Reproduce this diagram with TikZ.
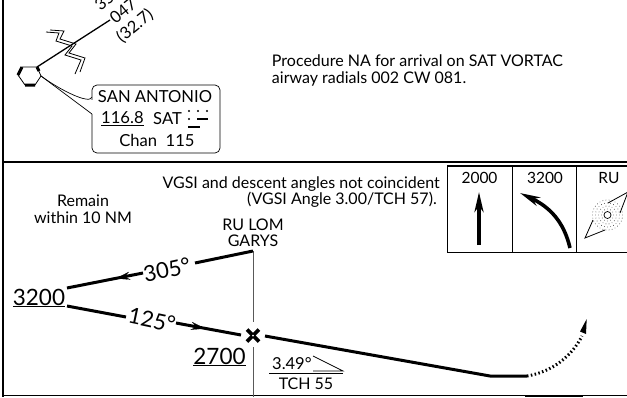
\documentclass[tikz,border=0pt]{standalone}
\usepackage{fontspec}
\setmainfont{Lato}
\usetikzlibrary{arrows.meta}
\tikzset{
    rule/.style={black,line width=1.3pt},
    thinrule/.style={black,line width=0.9pt},
    track/.style={black,line width=3pt},
    label/.style={inner sep=0pt,font=\fontsize{16}{17}\selectfont},
    altitude/.style={inner sep=0pt,font=\fontsize{22.5}{23}\selectfont},
    bearing/.style={inner sep=0pt,font=\fontsize{22}{22}\selectfont},
    radial/.style={inner sep=0pt,rotate=39,font=\fontsize{16.5}{17}\selectfont}
}
\begin{document}
\begin{tikzpicture}[x=1pt,y=-1pt]
    \useasboundingbox (0,0) rectangle (627,397);
    \clip (0,0) rectangle (627,397);

    % frame
    \coordinate (frameTL) at (3,0); \coordinate (frameBL) at (3,397);
    \coordinate (midL) at (3,162); \coordinate (midR) at (627,162);
    \coordinate (botL) at (3,395.5); \coordinate (botR) at (627,395.5);
    \draw[rule] (frameTL) -- (frameBL);
    \draw[rule] (midL) -- (midR);
    \draw[thinrule] (botL) -- (botR);
    \coordinate (barL) at (525,396); \coordinate (barR) at (583,396);
    \draw[black,line width=2pt] (barL) -- (barR);

    % plan view, upper part
    \node[label,align=left] (note) at (417.5,70) {Procedure NA for arrival on SAT VORTAC\\airway radials 002 CW 081.};

    \coordinate (h1) at (22,67); \coordinate (h2) at (37,67); \coordinate (h3) at (41,76);
    \coordinate (h4) at (35,85); \coordinate (h5) at (25,85); \coordinate (h6) at (18,75);
    \draw[black,line width=0.8pt] (h1) -- (h2) -- (h3) -- (h4) -- (h5) -- (h6) -- cycle;
    \draw[black,line width=3pt] (h6) -- (h1) (h2) -- (39,71) (h4) -- (h5);
    \coordinate (legEnd) at (110,20);
    \draw[black,line width=1.3pt] (h2) -- (legEnd);
    \draw[black,line width=0.8pt] (46,32) -- (59,33) -- (56,41) -- (72,46) -- (65,55) -- (81,60) -- (75,74);
    \draw[black,line width=0.8pt] (50,30) -- (64,31) -- (60,39) -- (76,44) -- (69,53) -- (85,58) -- (80,72);
    \node[radial] (radA) at (108,-2) {350};
    \node[radial] (radB) at (123,11) {047};
    \node[radial] (radC) at (135,26) {(32.7)};

    \node[draw,line width=0.7pt,rounded corners=5pt,minimum width=128pt,minimum height=68pt,inner sep=0pt] (vorbox) at (156,119) {};
    \fill[white] (91,100) rectangle (94,114);
    \draw[black,line width=0.7pt] (h3) .. controls (60,90) and (90,105) .. (92,97);
    \draw[black,line width=0.7pt] (h3) -- (92,114);
    \node[label] (vorname) at (155,97) {\fontsize{16.6}{17}\selectfont SAN ANTONIO};
    \node[label,anchor=west] (vorfreq) at (101,119) {\fontsize{16.6}{17}\selectfont\underline{116.8}};
    \node[label,anchor=west] (vorid) at (153,119) {\fontsize{16.6}{17}\selectfont SAT};
    \node[label] (vorchan) at (157,140) {\fontsize{16.6}{17}\selectfont Chan\ \ 115};
    \foreach \dotx in {189,198,207} \fill[black] (\dotx,111) circle (1.2pt);
    \fill[black] (189,119) circle (1.2pt);
    \coordinate (dashA) at (197,119); \coordinate (dashB) at (208,119);
    \coordinate (dashC) at (188,126.5); \coordinate (dashD) at (200,126.5);
    \draw[black,line width=2pt] (dashA) -- (dashB) (dashC) -- (dashD);

    % minimums boxes
    \coordinate (boxTL) at (447,166); \coordinate (boxTR) at (627,166);
    \coordinate (boxBL) at (447,252); \coordinate (boxBR) at (627,252);
    \draw[rule] (boxTL) -- (boxTR);
    \draw[thinrule] (boxBL) -- (boxBR);
    \draw[thinrule] (boxTL) -- (boxBL);
    \draw[thinrule] (512,166) -- (512,252);
    \draw[thinrule] (576,166) -- (576,252);
    \node[label] (altA) at (479.5,178) {\fontsize{15.5}{16}\selectfont 2000};
    \node[label] (altB) at (545,178) {\fontsize{15.5}{16}\selectfont 3200};
    \node[label] (altC) at (609,178) {\fontsize{15.5}{16}\selectfont RU};
    \coordinate (upS) at (479,245); \coordinate (upE) at (479,192);
    \draw[black,line width=3.4pt,-{Stealth[length=20pt,width=9pt,inset=6pt]}] (upS) -- (upE);
    \coordinate (turnS) at (570,248); \coordinate (turnE) at (520,193);
    \draw[black,line width=3.6pt,-{Stealth[length=20pt,width=9pt,inset=6pt]}] (turnS) .. controls (564,222) and (550,207) .. (turnE);

    \foreach \ringr/\ringn in {6/12,9/18,12/24,15/30}
        \foreach \dotn in {1,...,\ringn}
            \fill[black!75] (607.5,215) ++({360*\dotn/\ringn}:\ringr) circle (0.45pt);
    \draw[black,line width=0.8pt] (593,220) -- (585,238) -- (605,230);
    \draw[black,line width=0.8pt] (608,203) -- (628,192) -- (620,213);
    \node[draw,circle,fill=white,line width=0.7pt,minimum size=7pt,inner sep=0pt] (locator) at (607.5,215) {};

    % profile
    \node[label,align=center] (remain) at (83,209) {Remain\\within 10 NM};
    \node[label,anchor=east] (vgsiA) at (440,184) {VGSI and descent angles not coincident};
    \node[label,anchor=east] (vgsiB) at (437,200) {(VGSI Angle 3.00/TCH 57).};
    \node[label] (ruName) at (253,225) {RU LOM};
    \node[label] (garys) at (253,241) {GARYS};

    \coordinate (lomTop) at (253,251);
    \coordinate (fix) at (253,335.5);
    \draw[black,line width=3.8pt] ([shift={(-6,-6)}]fix) -- ([shift={(6,6)}]fix);
    \draw[black,line width=3.8pt] ([shift={(-6,6)}]fix) -- ([shift={(6,-6)}]fix);
    \fill[white] (fix) circle (1pt);
    \coordinate (stemA) at (253,322); \coordinate (stemB) at (253,347); \coordinate (stemC) at (253,397);
    \draw[gray!70!black,line width=1pt] (lomTop) -- (stemA) (stemB) -- (stemC);

    \node[altitude] (altLeft) at (39,298) {\underline{3200}};
    \node[altitude] (altFix) at (219.5,357) {\underline{2700}};
    \node[bearing,rotate=12] (brgOut) at (167,270) {305°};
    \node[bearing,rotate=-12] (brgIn) at (152,320) {125°};

    \coordinate (upA) at (67,288); \coordinate (upB) at (143,273);
    \coordinate (upC) at (195,263); \coordinate (upD) at (253,251);
    \coordinate (lowA) at (67,306); \coordinate (lowB) at (126,317);
    \coordinate (lowC) at (176,323); \coordinate (lowD) at (241,335);
    \coordinate (descA) at (265,336); \coordinate (descB) at (490,376);
    \coordinate (descC) at (527,376); \coordinate (descD) at (586.7,319);
    \draw[track] (upD) -- (upC);
    \draw[track] (upA) -- (upB);
    \draw[black,line width=0.1pt,{Stealth[length=14pt,width=8pt,inset=5pt]}-] (116,278.5) -- (upB);
    \draw[track] (lowA) -- (lowB);
    \draw[track] (lowC) -- (lowD);
    \draw[black,line width=0.1pt,-{Stealth[length=14pt,width=8pt,inset=5pt]}] (lowC) -- (205,328.5);
    \draw[track] (descA) -- (descB) -- (descC);
    \draw[black,line width=3pt,dash pattern=on 1.5pt off 2.4pt] (descC) .. controls (552,372) and (572,356) .. (582,336);
    \fill[black] (descD) -- (586,334) -- (580,331.5) -- cycle;

    \node[label,anchor=west] (gpa) at (272,363.5) {\fontsize{16.5}{17}\selectfont 3.49°};
    \coordinate (triA) at (313,356); \coordinate (triB) at (343,371); \coordinate (triC) at (313,371);
    \draw[black,line width=0.7pt] (triA) -- (triB) -- (triC);
    \coordinate (gpaL) at (269,373.5); \coordinate (gpaR) at (343,373.5);
    \draw[black,line width=0.7pt] (gpaL) -- (gpaR);
    \node[label] (tch) at (306,384) {TCH 55};
\end{tikzpicture}
\end{document}
